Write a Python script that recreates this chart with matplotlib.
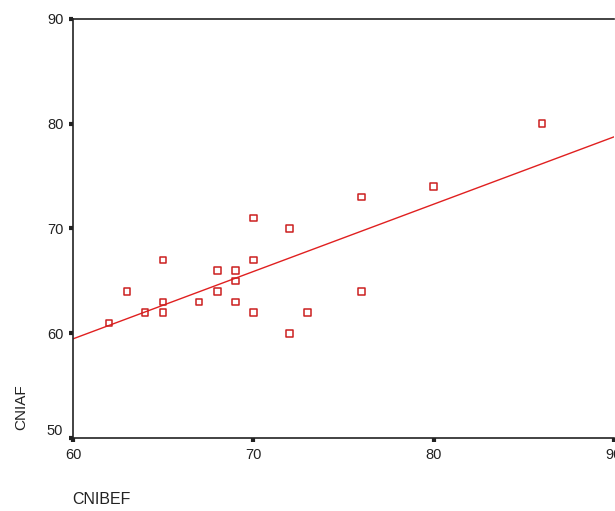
import matplotlib
matplotlib.use("Agg")
import matplotlib.pyplot as plt
import matplotlib.transforms as mtransforms
import numpy as np

plt.rcParams['font.family'] = ['Liberation Sans', 'DejaVu Sans']

# pre / post scores
cnibef = [62, 63, 64, 65, 65, 65, 67, 68, 68, 69, 69, 69, 70, 70, 70, 72, 72, 73, 76, 76, 80, 86]
cniaf = [61, 64, 62, 67, 63, 62, 63, 66, 64, 66, 65, 63, 71, 67, 62, 70, 60, 62, 73, 64, 74, 80]

x_ticks = [60, 70, 80, 90]
y_ticks = [50, 60, 70, 80, 90]

W, H = 615, 511
fig = plt.figure(figsize=(W / 100, H / 100), dpi=100)
ax = fig.add_axes([73 / W, (H - 438) / H, 541 / W, (438 - 19) / H])

ax.scatter(cnibef, cniaf, marker="s", s=22, facecolors="none",
           edgecolors="#cc1f1f", linewidths=1.1, zorder=3)

slope, icpt = np.polyfit(cnibef, cniaf, 1)
xs = np.array([60, 90])
ax.plot(xs, icpt + slope * xs, color="#e02020", linewidth=1.0)

ax.set_xlim(60, 90)
ax.set_ylim(50, 90)
ax.set_xticks(x_ticks)
ax.set_yticks(y_ticks)
ax.spines["right"].set_visible(False)
for s in ["left", "bottom", "top"]:
    ax.spines[s].set_linewidth(1.2)
    ax.spines[s].set_color("#222222")
ax.tick_params(length=3, width=3, pad=4, labelsize=10.5, colors="#222222")

# the lowest y label sits a little above its tick in the reference
lab50 = ax.get_yticklabels()[0]
lab50.set_transform(lab50.get_transform() +
                    mtransforms.ScaledTranslation(0, 8 / 100, fig.dpi_scale_trans))

fig.text(21 / W, 1 - 407 / H, "CNIAF", rotation=90, ha="center", va="center",
         fontsize=11, color="#222222")
fig.text(72 / W, 1 - 499 / H, "CNIBEF", ha="left", va="center",
         fontsize=11.5, color="#222222")

fig.savefig("out.png", dpi=100)
